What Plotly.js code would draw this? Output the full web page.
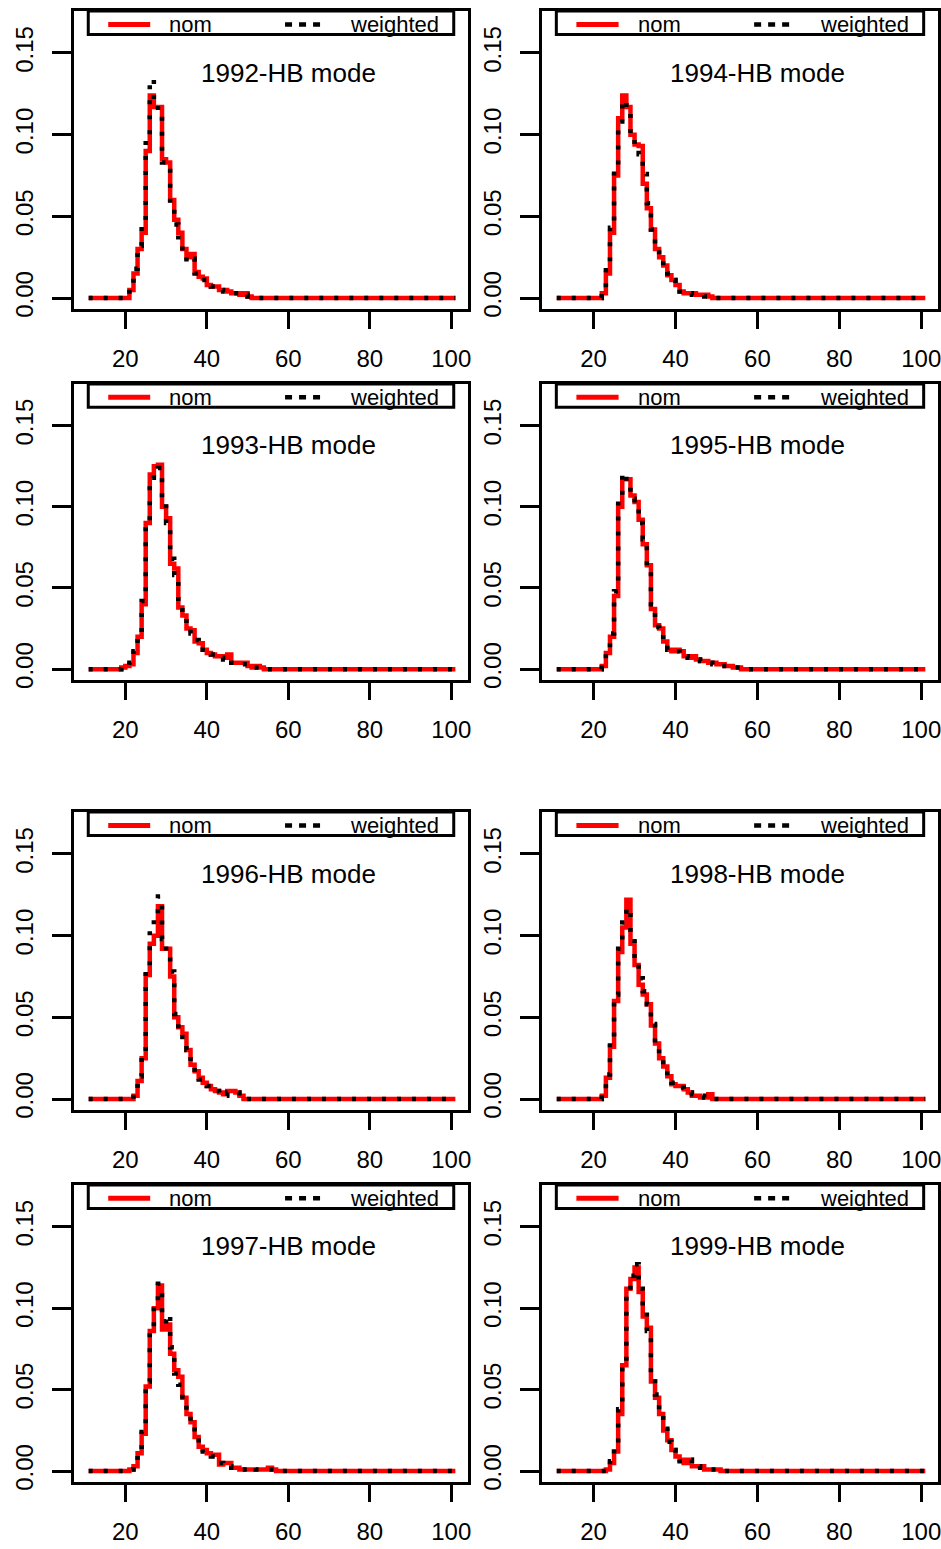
<!DOCTYPE html>
<html><head><meta charset="utf-8">
<script src="https://cdn.plot.ly/plotly-3.0.1.min.js"></script>
<style>html,body{margin:0;padding:0;background:#fff;} #chart{width:941px;height:1549px;}</style>
</head><body><div id="chart"></div>
<script>
// ages (x): 11, 18..58, 101
const AGES = [11,18,19,20,21,22,23,24,25,26,27,28,29,30,31,32,33,34,35,36,37,38,39,40,41,42,43,44,45,46,47,48,49,50,51,52,53,54,55,56,57,58,101];
const X_TICKS = [20,40,60,80,100];
const Y_TICKS = [0,0.05,0.10,0.15];
const Y_TICK_TEXT = ['0.00','0.05','0.10','0.15'];
const LEGEND_NAMES = ['nom','weighted'];

const nom1992 = [0, 0,0,0,0.005,0.015,0.030,0.040,0.090,0.124,0.117,0.117,0.085,0.083,0.060,0.048,0.040,0.030,0.025,0.027,0.016,0.013,0.012,0.008,0.007,0.007,0.005,0.005,0.004,0.003,0.003,0.002,0.003,0.001, 0,0,0,0,0,0,0,0, 0];
const wtd1992 = [0, 0,0,0,0.006,0.018,0.032,0.045,0.098,0.134,0.118,0.114,0.083,0.080,0.058,0.045,0.034,0.028,0.022,0.024,0.015,0.011,0.011,0.008,0.007,0.006,0.005,0.004,0.004,0.003,0.003,0.002,0.002,0.001, 0,0,0,0,0,0,0,0, 0];
const nom1993 = [0, 0,0.001,0.002,0.003,0.010,0.020,0.040,0.090,0.120,0.125,0.126,0.100,0.093,0.065,0.062,0.038,0.033,0.025,0.024,0.017,0.016,0.012,0.010,0.009,0.008,0.008,0.007,0.009,0.004,0.004,0.004,0.004,0.002,0.001,0.002,0.001,0,0,0,0,0, 0];
const wtd1993 = [0, 0,0.001,0.002,0.004,0.011,0.022,0.042,0.088,0.118,0.123,0.124,0.102,0.090,0.068,0.058,0.040,0.031,0.026,0.022,0.018,0.014,0.012,0.010,0.009,0.008,0.007,0.006,0.007,0.004,0.004,0.003,0.003,0.002,0.001,0.001,0.001,0,0,0,0,0, 0];
const nom1994 = [0, 0,0,0,0,0.003,0.015,0.040,0.075,0.110,0.124,0.117,0.100,0.094,0.093,0.070,0.055,0.042,0.030,0.025,0.020,0.014,0.011,0.008,0.004,0.003,0.003,0.003,0.002,0.002,0.002,0.001, 0,0,0,0,0,0,0,0,0,0, 0];
const wtd1994 = [0, 0,0,0,0,0.004,0.017,0.043,0.078,0.108,0.121,0.115,0.098,0.092,0.088,0.076,0.058,0.042,0.032,0.026,0.019,0.015,0.011,0.008,0.004,0.003,0.003,0.002,0.002,0.002,0.001,0.001, 0,0,0,0,0,0,0,0,0,0, 0];
const nom1995 = [0, 0,0,0,0,0.002,0.010,0.020,0.045,0.100,0.117,0.117,0.107,0.103,0.092,0.077,0.064,0.037,0.027,0.025,0.017,0.012,0.011,0.012,0.011,0.008,0.007,0.008,0.006,0.005,0.005,0.004,0.004,0.003,0.003,0.002,0.002,0.001,0.001,0,0,0, 0];
const wtd1995 = [0, 0,0,0,0,0.003,0.012,0.022,0.048,0.104,0.121,0.114,0.105,0.100,0.090,0.080,0.062,0.040,0.026,0.024,0.018,0.012,0.011,0.011,0.010,0.008,0.007,0.007,0.006,0.005,0.004,0.004,0.003,0.003,0.002,0.002,0.001,0.001,0.001,0,0,0, 0];
const nom1996 = [0, 0,0,0,0,0.002,0.011,0.025,0.076,0.095,0.100,0.118,0.092,0.092,0.075,0.050,0.044,0.040,0.030,0.021,0.017,0.013,0.010,0.008,0.006,0.005,0.004,0.003,0.005,0.005,0.004,0.002, 0,0,0,0,0,0,0,0,0,0, 0];
const wtd1996 = [0, 0,0,0,0,0.003,0.014,0.028,0.080,0.104,0.110,0.124,0.098,0.088,0.078,0.052,0.043,0.038,0.030,0.022,0.016,0.012,0.010,0.008,0.006,0.005,0.004,0.002,0.004,0.004,0.004,0.002, 0,0,0,0,0,0,0,0,0,0, 0];
const nom1997 = [0, 0,0,0,0.001,0.003,0.011,0.023,0.052,0.086,0.100,0.114,0.087,0.090,0.072,0.062,0.058,0.045,0.035,0.030,0.021,0.015,0.013,0.011,0.010,0.010,0.004,0.005,0.005,0.002,0.002,0.001,0.001,0.001,0.001,0.001,0.001,0.001,0.002,0.001,0,0, 0];
const wtd1997 = [0, 0,0,0,0.001,0.004,0.012,0.024,0.055,0.088,0.104,0.115,0.092,0.096,0.076,0.060,0.053,0.043,0.034,0.028,0.020,0.014,0.012,0.011,0.009,0.008,0.005,0.004,0.003,0.002,0.001,0.001,0.001,0.001,0.002,0.001,0.001,0.001,0.001,0.001,0,0, 0];
const nom1998 = [0, 0,0,0,0,0.002,0.013,0.032,0.060,0.090,0.105,0.122,0.095,0.082,0.070,0.064,0.058,0.045,0.034,0.025,0.020,0.014,0.009,0.008,0.008,0.006,0.004,0.002,0.002,0.001,0.001,0.003, 0,0,0,0,0,0,0,0,0,0, 0];
const wtd1998 = [0, 0,0,0,0,0.003,0.015,0.035,0.064,0.092,0.108,0.117,0.099,0.084,0.074,0.066,0.058,0.046,0.033,0.027,0.019,0.013,0.010,0.009,0.007,0.006,0.004,0.003,0.002,0.002,0.001,0.001, 0,0,0,0,0,0,0,0,0,0, 0];
const nom1999 = [0, 0,0,0,0,0,0.001,0.005,0.012,0.035,0.065,0.112,0.118,0.125,0.110,0.095,0.088,0.055,0.045,0.035,0.025,0.019,0.013,0.009,0.007,0.005,0.007,0.003,0.003,0.003,0.001,0.001,0.001,0.001, 0,0,0,0,0,0,0,0, 0];
const wtd1999 = [0, 0,0,0,0,0,0.002,0.006,0.014,0.038,0.067,0.110,0.120,0.127,0.112,0.098,0.086,0.058,0.047,0.034,0.026,0.018,0.013,0.009,0.006,0.006,0.007,0.004,0.003,0.002,0.001,0.001,0.001,0.001, 0,0,0,0,0,0,0,0, 0];

// panels in reading order (row by row, left then right)
const PANEL_YEARS = ['1992','1994','1993','1995','1996','1998','1997','1999'];
const PANEL_NOM = [nom1992,nom1994,nom1993,nom1995,nom1996,nom1998,nom1997,nom1999];
const PANEL_WTD = [wtd1992,wtd1994,wtd1993,wtd1995,wtd1996,wtd1998,wtd1997,wtd1999];

// layout geometry (pixels)
const W = 941, H = 1549;
const COLS = [[74,468],[542,938]];
const ROWS = [[11,309],[384,680],[812,1110],[1185,1482]];
const XR = [7.4, 104.1];
const YR = [-0.0067, 0.1757];
const FONT = 'Liberation Sans, Arial, sans-serif';

const data = [];
const layout = {
  width: W, height: H, margin: {l:0,r:0,t:0,b:0},
  paper_bgcolor: '#fff', plot_bgcolor: '#fff', showlegend: false,
  font: {family: FONT, color: '#000'},
  annotations: [], shapes: []
};

PANEL_YEARS.forEach((yr, i) => {
  const n = i + 1;
  const sfx = n === 1 ? '' : String(n);
  const row = Math.floor(i / 2), col = i % 2;
  const xa = 'x' + sfx, ya = 'y' + sfx;
  data.push({x: AGES, y: PANEL_NOM[i], type: 'scatter', mode: 'lines', name: LEGEND_NAMES[0],
    line: {shape: 'hv', color: '#ff0000', width: 4.5}, xaxis: xa, yaxis: ya, hoverinfo: 'skip'});
  data.push({x: AGES, y: PANEL_WTD[i], type: 'scatter', mode: 'lines', name: LEGEND_NAMES[1],
    line: {shape: 'hv', color: '#000000', width: 4.5, dash: '4px,11px'}, xaxis: xa, yaxis: ya, hoverinfo: 'skip'});
  layout['xaxis' + sfx] = {
    domain: [COLS[col][0]/W, COLS[col][1]/W], anchor: ya, range: XR,
    tickmode: 'array', tickvals: X_TICKS, ticks: 'outside', ticklen: 17, tickwidth: 3, tickcolor: '#000',
    showline: true, mirror: true, linewidth: 3, linecolor: '#000', showgrid: false, zeroline: false,
    tickfont: {family: FONT, size: 24, color: '#000'}, ticklabelstandoff: 9, ticklabeloverflow: 'allow', fixedrange: true
  };
  layout['yaxis' + sfx] = {
    domain: [1 - ROWS[row][1]/H, 1 - ROWS[row][0]/H], anchor: xa, range: YR,
    tickmode: 'array', tickvals: Y_TICKS, ticktext: Y_TICK_TEXT, tickangle: -90,
    ticks: 'outside', ticklen: 19, tickwidth: 3, tickcolor: '#000',
    showline: true, mirror: true, linewidth: 3, linecolor: '#000', showgrid: false, zeroline: false,
    tickfont: {family: FONT, size: 24, color: '#000'}, ticklabelstandoff: 9, ticklabeloverflow: 'allow', fixedrange: true
  };
  // panel title
  layout.annotations.push({xref: xa, yref: ya, x: 60, y: 0.138, text: yr + '-HB mode', showarrow: false,
    xanchor: 'center', yanchor: 'middle', font: {family: FONT, size: 26, color: '#000'}});
  // legend box
  layout.shapes.push({type: 'rect', xref: xa, yref: ya, x0: 10.9, x1: 100.6, y0: 0.1613, y1: 0.1757,
    line: {color: '#000', width: 3}, fillcolor: 'rgba(255,255,255,0)'});
  layout.shapes.push({type: 'line', xref: xa, yref: ya, x0: 15.8, x1: 26.1, y0: 0.1675, y1: 0.1675,
    line: {color: '#ff0000', width: 5}});
  layout.shapes.push({type: 'line', xref: xa, yref: ya, x0: 59.2, x1: 68.6, y0: 0.1675, y1: 0.1675,
    line: {color: '#000', width: 4.5, dash: '7px,7px'}});
  layout.annotations.push({xref: xa, yref: ya, x: 30.3, y: 0.1672, text: LEGEND_NAMES[0], showarrow: false,
    xanchor: 'left', yanchor: 'middle', font: {family: FONT, size: 22, color: '#000'}});
  layout.annotations.push({xref: xa, yref: ya, x: 74.7, y: 0.1672, text: LEGEND_NAMES[1], showarrow: false,
    xanchor: 'left', yanchor: 'middle', font: {family: FONT, size: 22, color: '#000'}});
});

Plotly.newPlot('chart', data, layout, {staticPlot: true, displayModeBar: false});
</script>
</body></html>
